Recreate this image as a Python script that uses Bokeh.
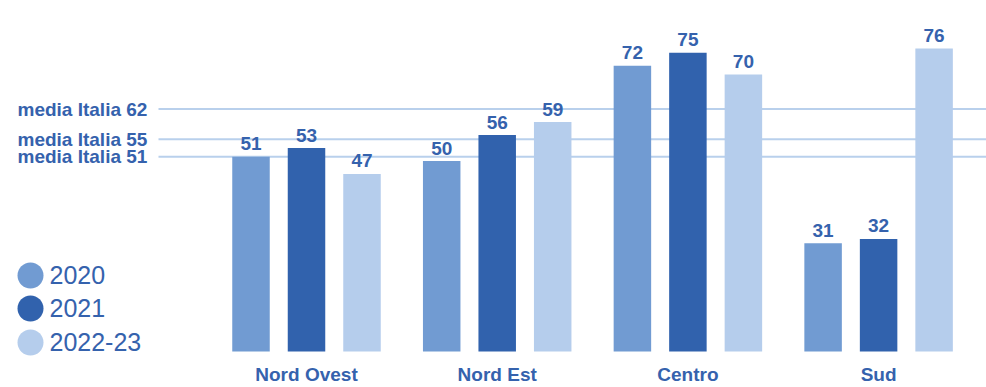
from bokeh.plotting import figure
from bokeh.models import Range1d, ColumnDataSource
from bokeh.core.properties import value
from bokeh.embed import file_html
from bokeh.resources import INLINE

# ---- data ----
regions = ["Nord Ovest", "Nord Est", "Centro", "Sud"]
series = ["2020", "2021", "2022-23"]
v2020 = [51, 50, 72, 31]
v2021 = [53, 56, 75, 32]
v2022 = [47, 59, 70, 76]
media = [62, 55, 51]
media_labels = ["media Italia 62", "media Italia 55", "media Italia 51"]

colors = ["#719bd2", "#3162ad", "#b5cdec"]
text_color = "#3562ad"
line_color = "#b9d0ec"
FONT = "Liberation Sans"

W, H = 986, 387
BASE_PX = 351  # pixel where the bars start

# pixel <-> data helpers for layout only
GROUP0_PX = 306.0
GROUP_STEP = 190.7
def px2x(px):
    return (px - GROUP0_PX) / GROUP_STEP

Y0_PX = 377.0   # pixel of value 0
Y_SCALE = 4.33  # px per unit
def py2y(py):
    return (Y0_PX - py) / Y_SCALE

x_start, x_end = px2x(0), px2x(W)
y_start, y_end = py2y(H), py2y(0)
base = py2y(BASE_PX)

p = figure(width=W, height=H, output_backend="svg", toolbar_location=None,
           x_range=Range1d(x_start, x_end), y_range=Range1d(y_start, y_end),
           min_border_left=0, min_border_right=0, min_border_top=0,
           min_border_bottom=0)
p.outline_line_color = None
p.background_fill_color = "white"
p.border_fill_color = "white"
p.grid.visible = False
p.axis.visible = False

# reference lines (media Italia)
p.segment(x0=[px2x(158)] * len(media), x1=[x_end] * len(media), y0=media, y1=media,
          line_color=line_color, line_width=2)
p.text(x=[px2x(17)] * len(media), y=media, text=media_labels,
       text_font=value(FONT), text_font_style="bold", text_font_size="19px",
       text_color=text_color, text_align="left", text_baseline="alphabetic")

# bars
xs = list(range(len(regions)))
offset = 55.5 / GROUP_STEP
bw = 37.5 / GROUP_STEP
for i, (vals, col) in enumerate(zip([v2020, v2021, v2022], colors)):
    bx = [x + (i - 1) * offset for x in xs]
    src = ColumnDataSource(dict(x=bx, top=vals, lab=[str(v) for v in vals]))
    p.vbar(x="x", top="top", bottom=base, width=bw, source=src,
           fill_color=col, line_color=None)
    p.text(x="x", y="top", text="lab", source=src, y_offset=-13,
           text_font=value(FONT), text_font_style="bold", text_font_size="19px",
           text_color=text_color, text_align="center", text_baseline="alphabetic")

# category labels
p.text(x=xs, y=[py2y(374)] * len(xs), text=regions,
       text_font=value(FONT), text_font_style="bold", text_font_size="19px",
       text_color=text_color, text_align="center", text_baseline="middle")

# legend (drawn as glyphs)
leg_x = px2x(30)
leg_y = [py2y(275), py2y(308), py2y(342)]
p.scatter(x=[leg_x] * 3, y=leg_y, size=26, fill_color=colors, line_color=None)
p.text(x=[px2x(49)] * 3, y=leg_y, text=series, y_offset=-1,
       text_font=value(FONT), text_font_size="25px",
       text_color=text_color, text_align="left", text_baseline="middle")

open("out.html", "w").write(file_html(p, INLINE))
